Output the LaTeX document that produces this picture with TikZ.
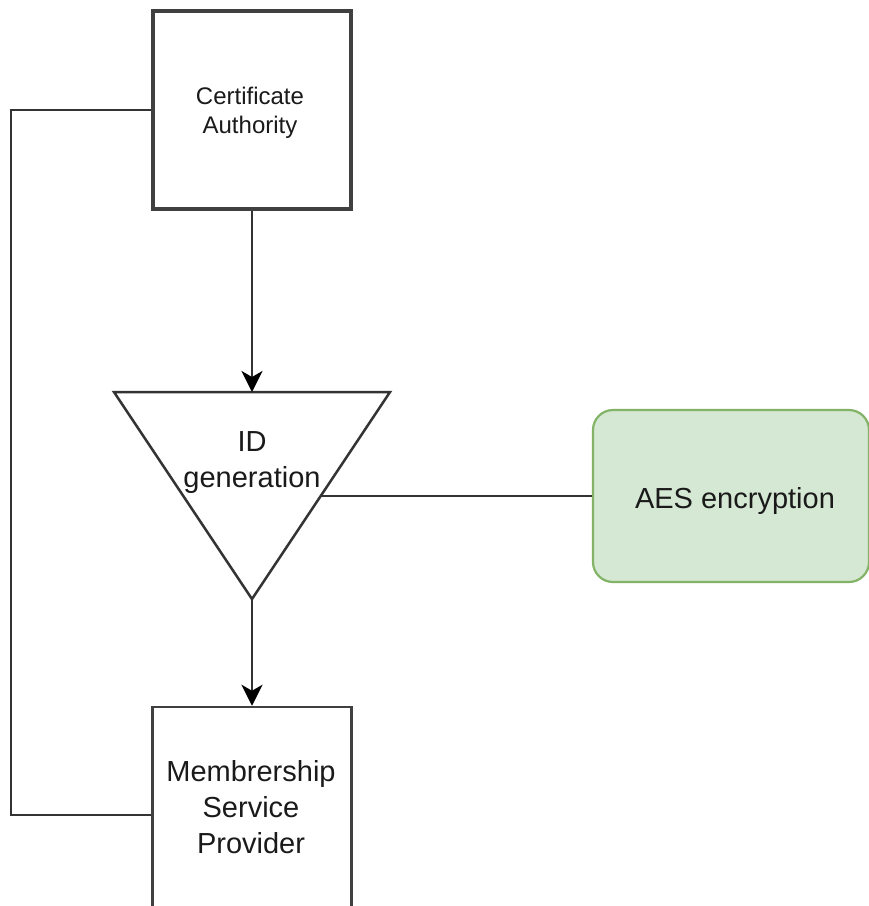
\documentclass[tikz,border=0pt]{standalone}
\usepackage{fontspec}
\setmainfont{Liberation Sans}
\usetikzlibrary{arrows.meta}
\definecolor{linegray}{HTML}{333333}
\definecolor{boxgray}{HTML}{404040}
\definecolor{aesfill}{HTML}{D5E8D4}
\definecolor{aesline}{HTML}{82B366}
\definecolor{txt}{HTML}{1A1A1A}
\begin{document}
\begin{tikzpicture}[x=1pt,y=-1pt,
  conn/.style={draw=linegray,line width=2.5pt},
  arrowconn/.style={conn,-{Stealth[length=21pt,width=21pt,inset=6pt,color=black]}},
  cabox/.style={draw=boxgray,line width=4.5pt,fill=white,minimum width=198pt,minimum height=198pt,inner sep=0pt},
  mspbox/.style={draw=boxgray,line width=2.5pt,fill=white,minimum width=199pt,minimum height=216pt,inner sep=0pt},
  aesbox/.style={draw=aesline,line width=2.2pt,fill=aesfill,rounded corners=20pt,minimum width=276pt,minimum height=172pt,inner sep=0pt},
  tri/.style={draw=linegray,line width=2.5pt,fill=white,line join=miter},
  small/.style={text=txt,font=\fontsize{24}{29}\selectfont,align=center,inner sep=0pt},
  big/.style={text=txt,font=\fontsize{29}{36}\selectfont,align=center,inner sep=0pt}]
\clip (0,0) rectangle (869,906);
\fill[white] (0,0) rectangle (869,906);

% boxes
\node[cabox] (ca) at (252,110) {};
\node[small] (catext) at (250,112.5) {Certificate\\Authority};
\node[mspbox] (msp) at (252,815) {};
\node[big] (msptext) at (251,807.5) {Membrership\\Service\\Provider};
\node[aesbox] (aes) at (731,496) {};
\node[big,anchor=base] (aestext) at (735,508) {AES encryption};

% triangle
\coordinate (tritl) at (114,392);
\coordinate (tritop) at (252,392);
\coordinate (tritr) at (390,392);
\coordinate (tribot) at (252,599);
\coordinate (triside) at (321,496);
\draw[tri] (tritl) -- (tritr) -- (tribot) -- cycle;
\node[big] (idgen) at (252,463) {ID\\generation};

% connectors
\draw[arrowconn] (ca.south) -- (tritop);
\draw[arrowconn] (tribot) -- (msp.north);
\draw[conn] (triside) -- (aes.west);
\draw[conn] (ca.west) -- ++(-140,0) |- (msp.west);
\end{tikzpicture}
\end{document}
